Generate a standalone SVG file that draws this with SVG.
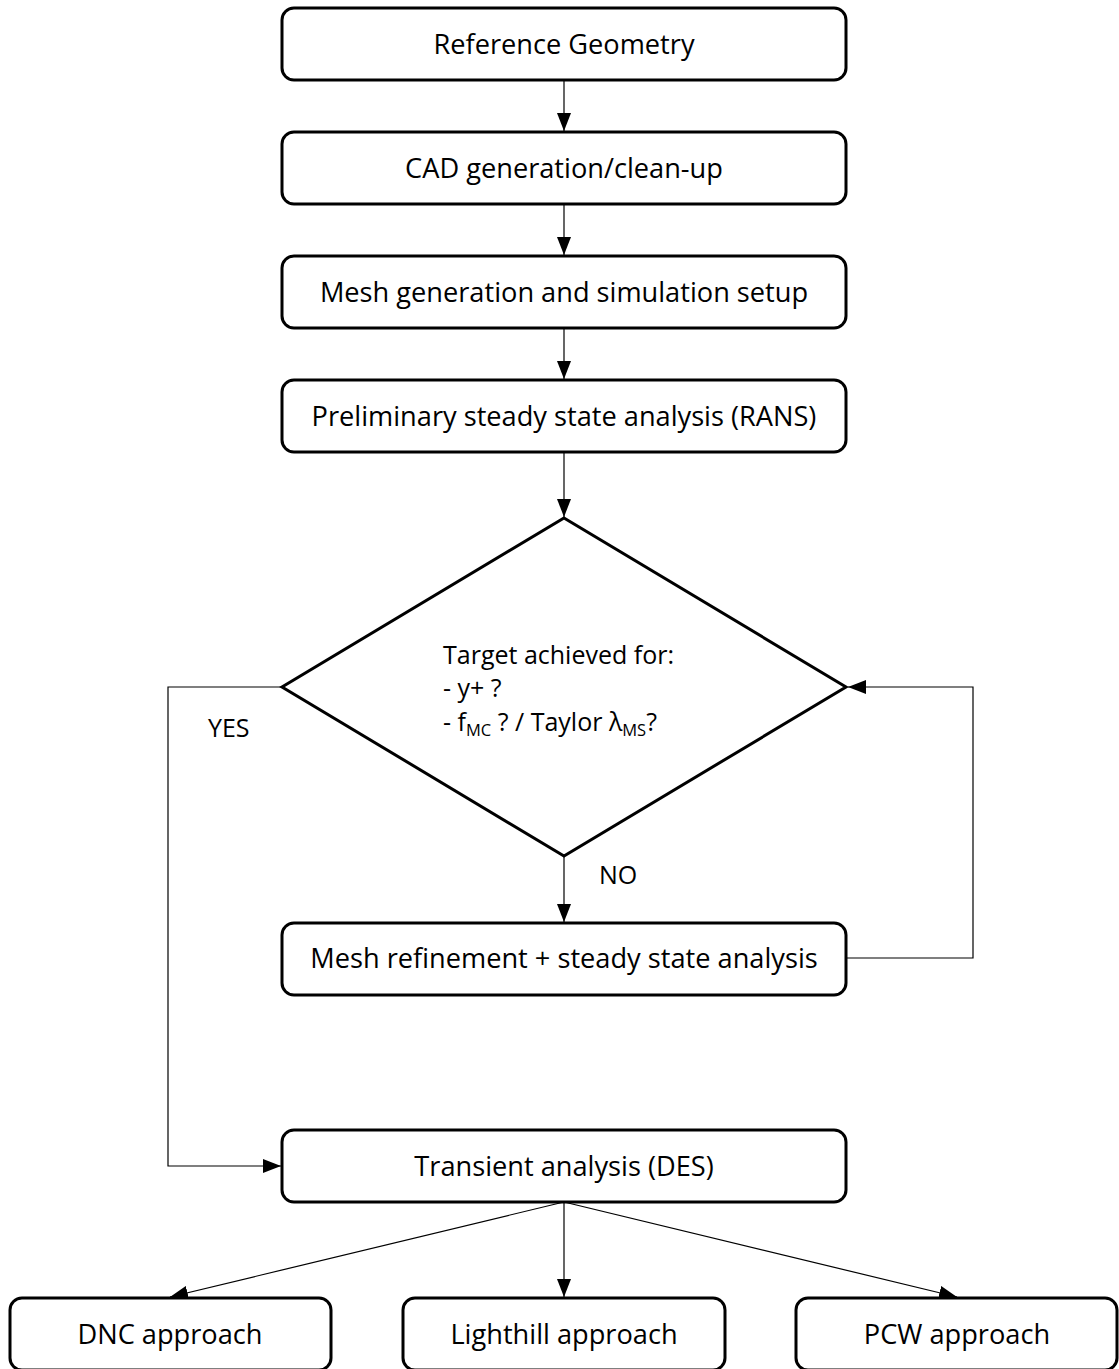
<svg xmlns="http://www.w3.org/2000/svg" width="1119" height="1369" viewBox="0 0 1119 1369">
<style>
.box{fill:#fff;stroke:#000;stroke-width:3}
.t{font-family:"Open Sans","Liberation Sans",sans-serif;font-size:27.2px;fill:#000;text-anchor:middle}
.tl{font-family:"Open Sans","Liberation Sans",sans-serif;font-size:25px;fill:#000}
.c{fill:none;stroke:#000;stroke-width:1.2}
</style>
<defs>
<marker id="ah" viewBox="0 0 18 14" refX="18" refY="7" markerWidth="18" markerHeight="14" markerUnits="userSpaceOnUse" orient="auto">
<path d="M0,0 L18,7 L0,14 Z" fill="#000"/>
</marker>
</defs>
<rect width="1119" height="1369" fill="#fff"/>
<g id="connectors">
<path class="c" d="M564,80 V131" marker-end="url(#ah)"/>
<path class="c" d="M564,204 V255" marker-end="url(#ah)"/>
<path class="c" d="M564,328 V379" marker-end="url(#ah)"/>
<path class="c" d="M564,452 V517" marker-end="url(#ah)"/>
<path class="c" d="M564,856 V922" marker-end="url(#ah)"/>
<path class="c" d="M846,958 H973 V687 H848" marker-end="url(#ah)"/>
<path class="c" d="M282,687 H168 V1166 H281" marker-end="url(#ah)"/>
<path class="c" d="M564,1202 V1297" marker-end="url(#ah)"/>
<path class="c" d="M564,1202 L170,1297" marker-end="url(#ah)"/>
<path class="c" d="M564,1202 L957,1297" marker-end="url(#ah)"/>
<text class="tl" x="208" y="737">YES</text>
<text class="tl" x="599" y="884">NO</text>
</g>
<g id="n1"><rect class="box" x="282" y="8" width="564" height="72" rx="12"/><text class="t" x="564" y="54">Reference Geometry</text></g>
<g id="n2"><rect class="box" x="282" y="132" width="564" height="72" rx="12"/><text class="t" x="564" y="178">CAD generation/clean-up</text></g>
<g id="n3"><rect class="box" x="282" y="256" width="564" height="72" rx="12"/><text class="t" x="564" y="302">Mesh generation and simulation setup</text></g>
<g id="n4"><rect class="box" x="282" y="380" width="564" height="72" rx="12"/><text class="t" x="564" y="426">Preliminary steady state analysis (RANS)</text></g>
<g id="decision"><path class="box" d="M564,518 L846,687 L564,856 L282,687 Z"/>
<text class="tl" x="443" y="664">Target achieved for:</text>
<text class="tl" x="443" y="697">- y+ ?</text>
<text class="tl" x="443" y="731">- f<tspan font-size="16.5" dy="5">MC</tspan><tspan dy="-5"> ? / Taylor λ</tspan><tspan font-size="16.5" dy="5">MS</tspan><tspan dy="-5">?</tspan></text>
</g>
<g id="n5"><rect class="box" x="282" y="923" width="564" height="72" rx="12"/><text class="t" x="564" y="968">Mesh refinement + steady state analysis</text></g>
<g id="n6"><rect class="box" x="282" y="1130" width="564" height="72" rx="12"/><text class="t" x="564" y="1176">Transient analysis (DES)</text></g>
<g id="n7"><rect class="box" x="10" y="1298" width="321" height="72" rx="12"/><text class="t" x="170" y="1344">DNC approach</text></g>
<g id="n8"><rect class="box" x="403" y="1298" width="322" height="72" rx="12"/><text class="t" x="564" y="1344">Lighthill approach</text></g>
<g id="n9"><rect class="box" x="796" y="1298" width="321" height="72" rx="12"/><text class="t" x="957" y="1344">PCW approach</text></g>
</svg>
